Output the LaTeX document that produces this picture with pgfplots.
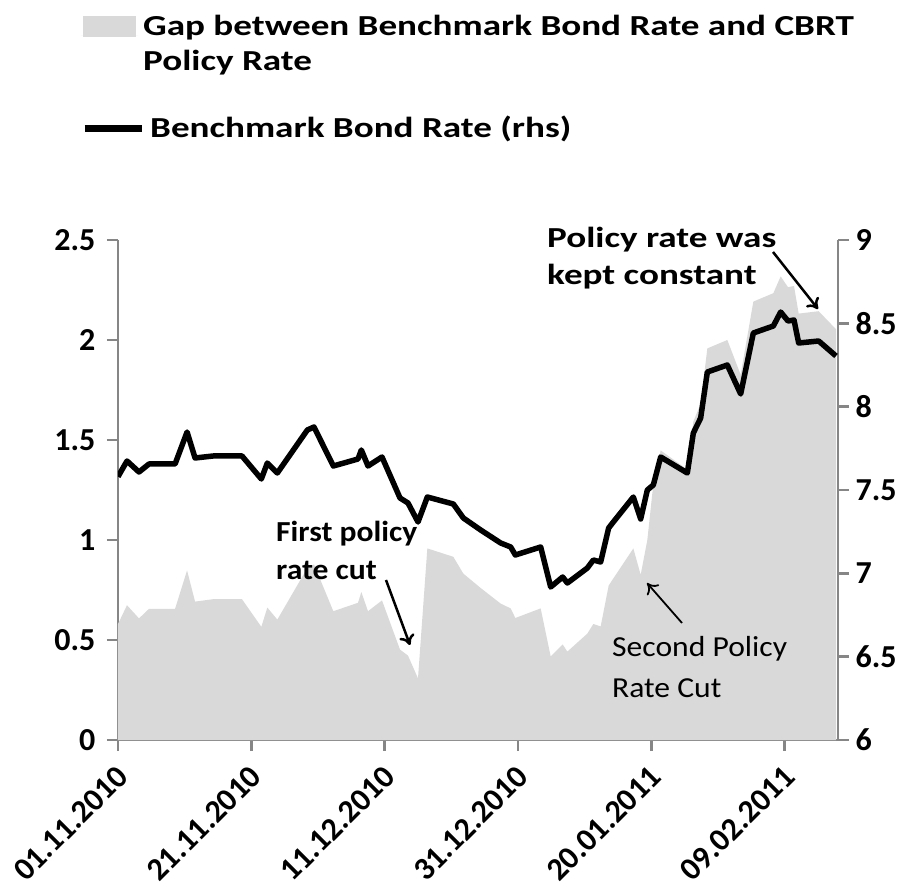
\documentclass[border=0pt]{standalone}
\usepackage{fontspec}
\setmainfont{Carlito}
\newfontfamily\widefont[FakeStretch=1.28]{Carlito}
\newfontfamily\semiwide[FakeStretch=1.09]{Carlito}
\usepackage{pgfplots}
\usepackage{pgfplotstable}
\pgfplotsset{compat=1.18}
\usetikzlibrary{arrows.meta}
\definecolor{gapgray}{HTML}{D9D9D9}
\definecolor{axgray}{HTML}{868686}

% x = days since 01.11.2010
\pgfplotstableread{
d gap
0 0.58
1.35 0.674
3.15 0.608
4.65 0.656
8.56 0.656
10.36 0.848
11.56 0.692
14.26 0.704
18.6 0.704
21.5 0.566
22.4 0.662
23.9 0.602
28.4 0.86
29.4 0.878
32.3 0.644
36.0 0.686
36.5 0.74
37.5 0.644
39.6 0.698
42.3 0.452
43.5 0.422
45.0 0.308
46.4 0.958
50.3 0.916
51.8 0.832
54.4 0.76
57.4 0.682
58.9 0.658
59.6 0.61
63.4 0.658
64.9 0.418
66.7 0.478
67.4 0.442
70.4 0.532
71.3 0.58
72.4 0.568
73.6 0.772
74.3 0.808
77.3 0.958
78.4 0.826
79.4 1.0
80.3 1.28
81.4 1.448
85.4 1.352
86.3 1.592
87.4 1.682
88.4 1.958
91.4 2.0
93.4 1.826
95.3 2.192
98.3 2.234
99.4 2.318
100.5 2.264
101.4 2.27
102.1 2.132
105.1 2.144
107.7 2.054
}\gaptable

\pgfplotstableread{
d bond
0 7.58
1.35 7.674
3.15 7.608
4.65 7.656
8.56 7.656
10.36 7.848
11.56 7.692
14.26 7.704
18.6 7.704
21.5 7.566
22.4 7.662
23.9 7.602
28.4 7.86
29.4 7.878
32.3 7.644
36.0 7.686
36.5 7.74
37.5 7.644
39.6 7.698
42.3 7.452
43.5 7.422
45.0 7.308
46.4 7.458
50.3 7.416
51.8 7.332
54.4 7.26
57.4 7.182
58.9 7.158
59.6 7.11
63.4 7.158
64.9 6.918
66.7 6.978
67.4 6.942
70.4 7.032
71.3 7.08
72.4 7.068
73.6 7.272
74.3 7.308
77.3 7.458
78.4 7.326
79.4 7.5
80.3 7.53
81.4 7.698
85.4 7.602
86.3 7.842
87.4 7.932
88.4 8.208
91.4 8.25
93.4 8.076
95.3 8.442
98.3 8.484
99.4 8.568
100.5 8.514
101.4 8.52
102.1 8.382
105.1 8.394
107.7 8.304
}\bondtable

\begin{document}
\begin{tikzpicture}
\pgfplotsset{
  common/.style={
    scale only axis, width=720pt, height=500pt,
    xmin=0, xmax=108,
    axis line style={draw=axgray, line width=2.5pt, -},
    tick style={draw=axgray, line width=2.5pt},
    major tick length=11pt,
    tick align=outside,
    ticklabel style={font=\bfseries\fontsize{32}{32}\selectfont},
    /pgf/number format/assume math mode=true,
  },
  leg/.style={
    legend style={draw=none, fill=none, inner sep=0pt, column sep=5pt,
      font=\widefont\bfseries\fontsize{29}{35}\selectfont,
      nodes={inner sep=0pt}, cells={anchor=base west}},
  },
}
\begin{axis}[common, leg,
  axis y line*=left, axis x line*=bottom,
  ymin=0, ymax=2.5, ytick={0,0.5,1,1.5,2,2.5},
  yticklabel shift=8pt,
  xtick={0,20,40,60,80,100},
  xticklabels={01.11.2010,21.11.2010,11.12.2010,31.12.2010,20.01.2011,09.02.2011},
  xticklabel style={xshift=7pt, rotate=45, anchor=east},
  xticklabel shift=18pt,
  legend style={at={(axis description cs:-0.0514,1.450)}, anchor=north west},
]
\addplot[fill=gapgray, draw=none,
  legend image code/.code={\path (0pt,0pt) -- (57pt,0pt);
    \fill[gapgray] (2pt,-1pt) rectangle (55pt,20pt);}]
  table[x=d,y=gap]{\gaptable} \closedcycle;
\addlegendentry{\vtop{\hbox{Gap between Benchmark Bond Rate and CBRT}\hbox{Policy Rate}}}
\end{axis}
\begin{axis}[common, leg,
  axis y line*=right, axis x line=none,
  ymin=6, ymax=9, ytick={6,6.5,7,7.5,8,8.5,9},
  yticklabel shift=3pt,
  legend style={at={(axis description cs:-0.0514,1.2494)}, anchor=north west},
]
\addplot[black, line width=5.5pt, line join=round,
  legend image code/.code={\draw[black, line width=7pt] (0pt,9pt) -- (57pt,9pt);}]
  table[x=d,y=bond]{\bondtable};
\addlegendentry{Benchmark Bond Rate (rhs)}
\end{axis}

% annotations
\begin{scope}[font=\semiwide\bfseries\fontsize{29}{33}\selectfont]
\node[anchor=base west, inner sep=0pt] at (158pt,198pt) {First policy};
\node[anchor=base west, inner sep=0pt] at (158pt,160pt) {rate cut};
\end{scope}
\begin{scope}[font=\widefont\bfseries\fontsize{29}{33}\selectfont]
\node[anchor=base west, inner sep=0pt] at (429pt,492pt) {Policy rate was};
\node[anchor=base west, inner sep=0pt] at (429pt,455pt) {kept constant};
\end{scope}
\begin{scope}[font=\semiwide\fontsize{29}{33}\selectfont]
\node[anchor=base west, inner sep=0pt] at (494pt,83pt) {Second Policy};
\node[anchor=base west, inner sep=0pt] at (494pt,43pt) {Rate Cut};
\end{scope}
\draw[line width=2.5pt, -{To[length=10pt,width=16pt]}] (268pt,160pt) -- (292pt,95pt);
\draw[line width=2.5pt, -{To[length=10pt,width=16pt]}] (655pt,488pt) -- (700pt,431pt);
\draw[line width=1.8pt, -{To[length=10pt,width=16pt]}] (564pt,117pt) -- (529pt,157pt);

\pgfresetboundingbox
\path (-118pt,-154pt) rectangle (789pt,740pt);
\end{tikzpicture}
\end{document}
